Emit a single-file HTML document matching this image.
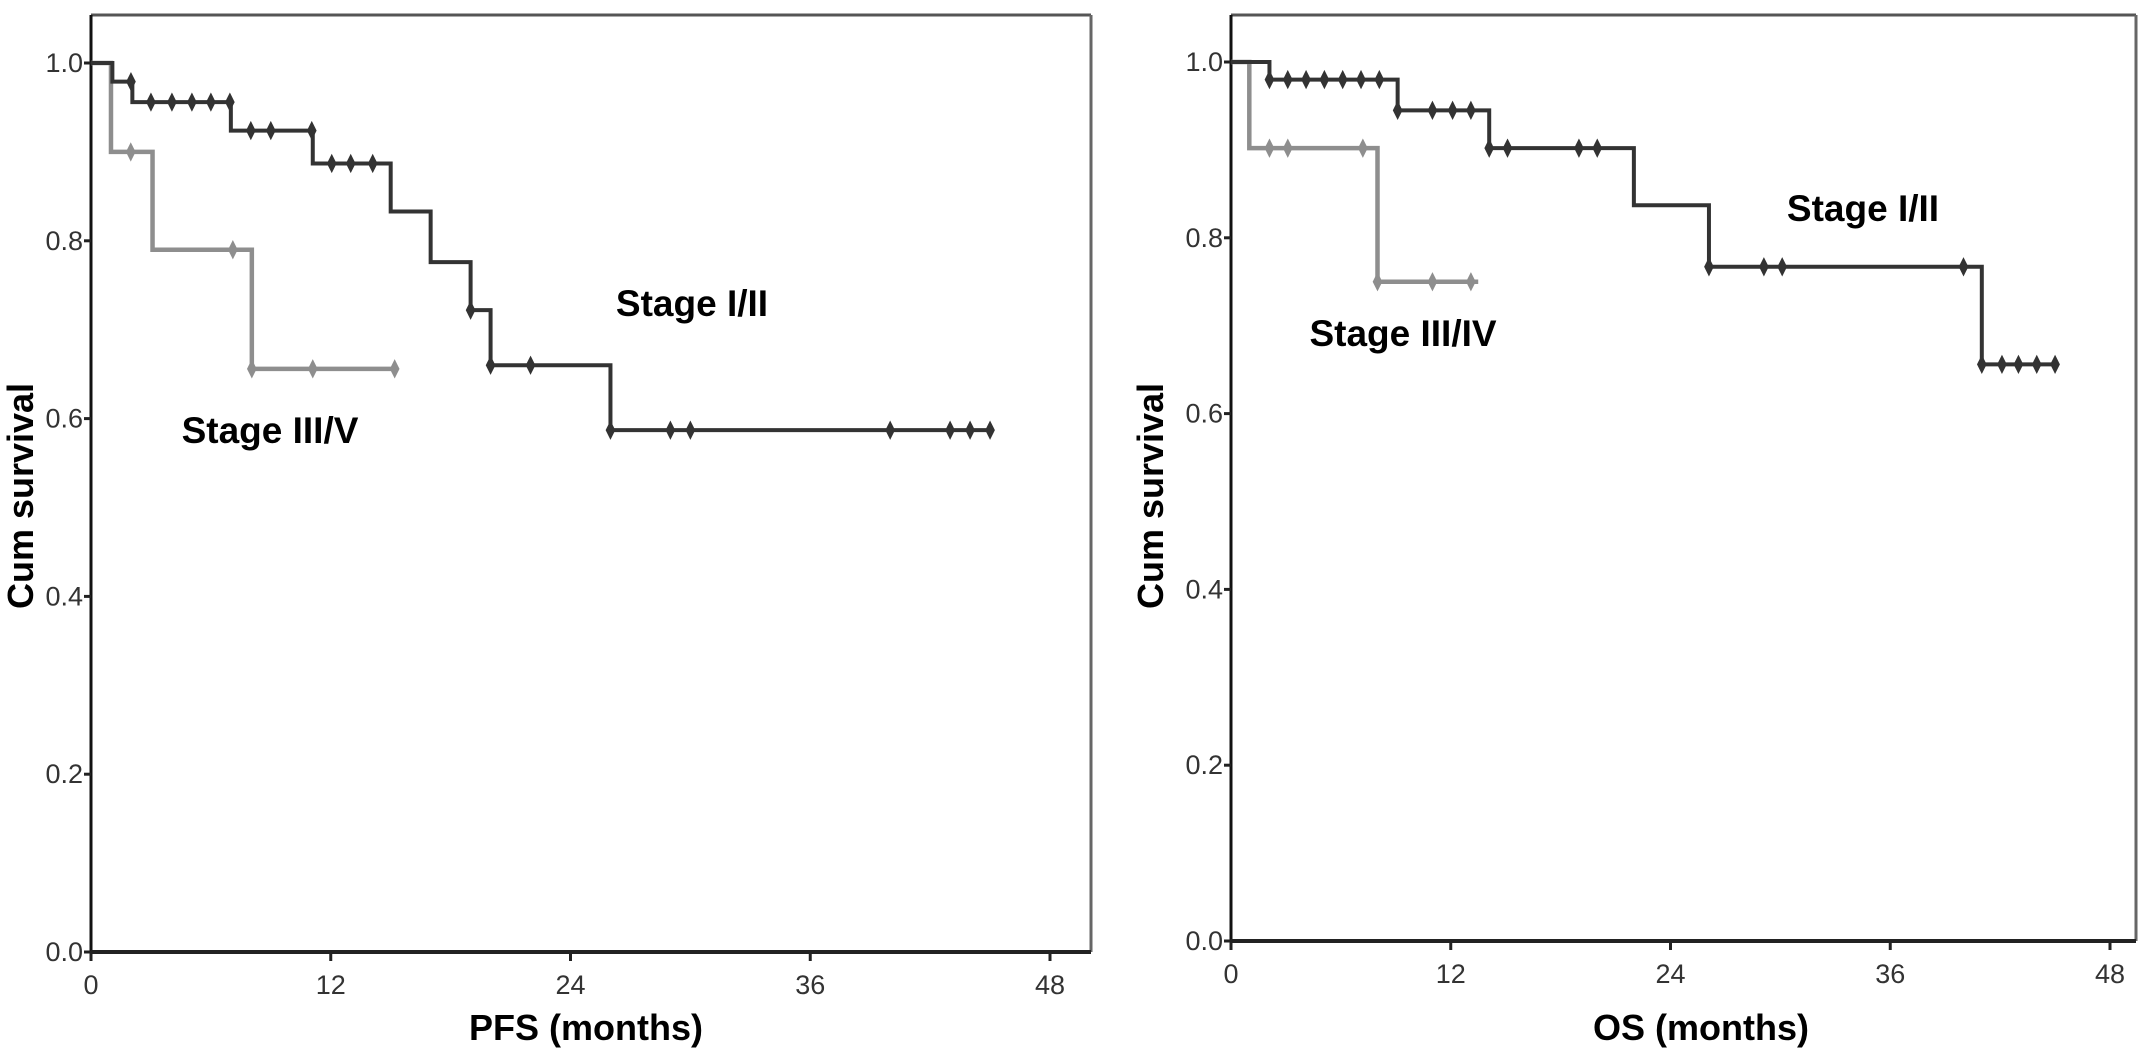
<!DOCTYPE html>
<html><head><meta charset="utf-8"><style>
html,body{margin:0;padding:0;background:#fff;}
svg text{font-family:"Liberation Sans Narrow","Liberation Sans",sans-serif;}
</style></head><body>
<svg id="chart" width="2150" height="1057" viewBox="0 0 2150 1057" xmlns="http://www.w3.org/2000/svg"></svg>
<script>
// PFS panel data
const pfsTimesEarly = [0, 1.07, 2.07, 7.0, 11.1, 15.0, 17.0, 19.0, 20.0, 26.0];
const pfsSurvEarly  = [1.0, 0.979, 0.956, 0.924, 0.887, 0.833, 0.776, 0.722, 0.66, 0.587];
const pfsEndEarly = 45;
const pfsCensorTEarly = [2.0,3.0,4.05,5.05,6.0, 6.95,8.0,9.0, 11.05,12.05,13.0,14.1, 19.0, 20.0,22.0, 26.0,29.0,30.0,40.0,43.0,44.0,45.0];
const pfsTimesLate = [0, 1.0, 3.08, 8.05];
const pfsSurvLate  = [1.0, 0.90, 0.79, 0.656];
const pfsEndLate = 15.2;
const pfsCensorTLate = [1.99, 7.1, 8.05, 11.1, 15.2];
// OS panel data
const osTimesEarly = [0, 2.1, 9.1, 14.1, 22.0, 26.1, 41.0];
const osSurvEarly  = [1.0, 0.98, 0.945, 0.902, 0.837, 0.767, 0.656];
const osEndEarly = 45;
const osCensorTEarly = [2.1,3.1,4.1,5.1,6.1,7.1,8.1, 9.1,11.0,12.1,13.1, 14.1,15.1,19.0,20.0, 26.1,29.1,30.1,40.0, 41.0,42.1,43.0,44.0,45.0];
const osTimesLate = [0, 1.0, 8.0];
const osSurvLate  = [1.0, 0.902, 0.75];
const osEndLate = 13.5;
const osCensorTLate = [2.1, 3.1, 7.2, 8.0, 11.0, 13.1];
const xTicks = [0, 12, 24, 36, 48];
const yTicks = [0.0, 0.2, 0.4, 0.6, 0.8, 1.0];
const yTickLabels = ["0.0","0.2","0.4","0.6","0.8","1.0"];

const NS = "http://www.w3.org/2000/svg";
const svg = document.getElementById('chart');
function mk(tag, attrs, parent){const e=document.createElementNS(NS,tag);for(const k in attrs)e.setAttribute(k,attrs[k]);(parent||svg).appendChild(e);return e;}
function survAt(times,surv,t){let v=surv[0];for(let i=0;i<times.length;i++){if(times[i]<=t+1e-9)v=surv[i];}return v;}

function panel(cfg){
  const g=mk('g',{});
  
  
  const X=t=>cfg.x0+(t/48)*(cfg.x48-cfg.x0);
  const Y=v=>cfg.y0-v*(cfg.y0-cfg.y1);
  const top=mk('line',{x1:cfg.x0,y1:cfg.top,x2:cfg.right,y2:cfg.top,stroke:'#555',"stroke-width":3},g);
  
  
  const rt=mk('line',{x1:cfg.right,y1:cfg.top,x2:cfg.right,y2:cfg.y0,stroke:'#666',"stroke-width":3},g);
  
  
  const ya=mk('line',{x1:cfg.x0,y1:cfg.top,x2:cfg.x0,y2:cfg.y0+2,stroke:'#111',"stroke-width":3},g);
  
  
  const xa=mk('line',{x1:cfg.x0,y1:cfg.y0,x2:cfg.right,y2:cfg.y0,stroke:'#222',"stroke-width":4},g);
  
  
  yTicks.forEach((v,i)=>{
    const l=mk('line',{x1:cfg.x0-7,y1:Y(v),x2:cfg.x0,y2:Y(v),stroke:'#222',"stroke-width":3},g);
    
    
    const t=mk('text',{x:cfg.x0-8,y:Y(v)+9,"text-anchor":"end","font-size":27,fill:'#333'},g);
    
    
    t.textContent=yTickLabels[i];
  });
  xTicks.forEach(v=>{
    const l=mk('line',{x1:X(v),y1:cfg.y0,x2:X(v),y2:cfg.y0+9,stroke:'#222',"stroke-width":3},g);
    
    
    const t=mk('text',{x:X(v),y:cfg.y0+42,"text-anchor":"middle","font-size":27,fill:'#333'},g);
    
    
    t.textContent=String(v);
  });
  const xt=mk('text',{x:cfg.xTitleX,y:1040,"text-anchor":"middle","font-size":36,"font-weight":"bold",fill:'#000'},g);
  
  
  xt.textContent=cfg.xTitle;
  const yt=mk('text',{x:0,y:0,"text-anchor":"middle","font-size":36,"font-weight":"bold",fill:'#000',transform:`translate(${cfg.yTitleX},496) rotate(-90)`},g);
  
  
  yt.textContent='Cum survival';
  function curve(times,surv,end,cens,color,w,name){
    let d=`M${X(times[0])},${Y(surv[0])}`;
    for(let i=1;i<times.length;i++){d+=` H${X(times[i])} V${Y(surv[i])}`;}
    d+=` H${X(end)}`;
    const p=mk('path',{d:d,fill:'none',stroke:color,"stroke-width":w},g);
    
    
    cens.forEach(t=>{
      const cx=X(t),cy=Y(survAt(times,surv,t));
      const m=mk('path',{d:`M${cx},${cy-8} L${cx+4},${cy} L${cx},${cy+8} L${cx-4},${cy} Z`,fill:color,stroke:color,"stroke-width":1.5},g);
      
      
    });
  }
  curve(cfg.lt,cfg.ls,cfg.le,cfg.lc,'#8e8e8e',4.5,'stage-late');
  curve(cfg.et,cfg.es,cfg.ee,cfg.ec,'#333',4,'stage-early');
  cfg.labels.forEach(lb=>{
    const t=mk('text',{x:lb[1],y:lb[2],"text-anchor":"middle","font-size":37,"font-weight":"bold",fill:'#000'},g);
    
    
    t.textContent=lb[0];
  });
}
panel({name:'pfs-panel',x0:91,x48:1050,right:1091,top:15,y0:952,y1:63,
  et:pfsTimesEarly,es:pfsSurvEarly,ee:pfsEndEarly,ec:pfsCensorTEarly,
  lt:pfsTimesLate,ls:pfsSurvLate,le:pfsEndLate,lc:pfsCensorTLate,
  xTitle:'PFS (months)',xTitleX:586,yTitleX:33,
  labels:[['Stage I/II',692,316,'stage-early-label'],['Stage III/V',270,443,'stage-late-label']]});
panel({name:'os-panel',x0:1231,x48:2110,right:2136,top:15,y0:941,y1:62,
  et:osTimesEarly,es:osSurvEarly,ee:osEndEarly,ec:osCensorTEarly,
  lt:osTimesLate,ls:osSurvLate,le:osEndLate,lc:osCensorTLate,
  xTitle:'OS (months)',xTitleX:1701,yTitleX:1163,
  labels:[['Stage I/II',1863,221,'stage-early-label'],['Stage III/IV',1403,346,'stage-late-label']]});
</script>
</body></html>
